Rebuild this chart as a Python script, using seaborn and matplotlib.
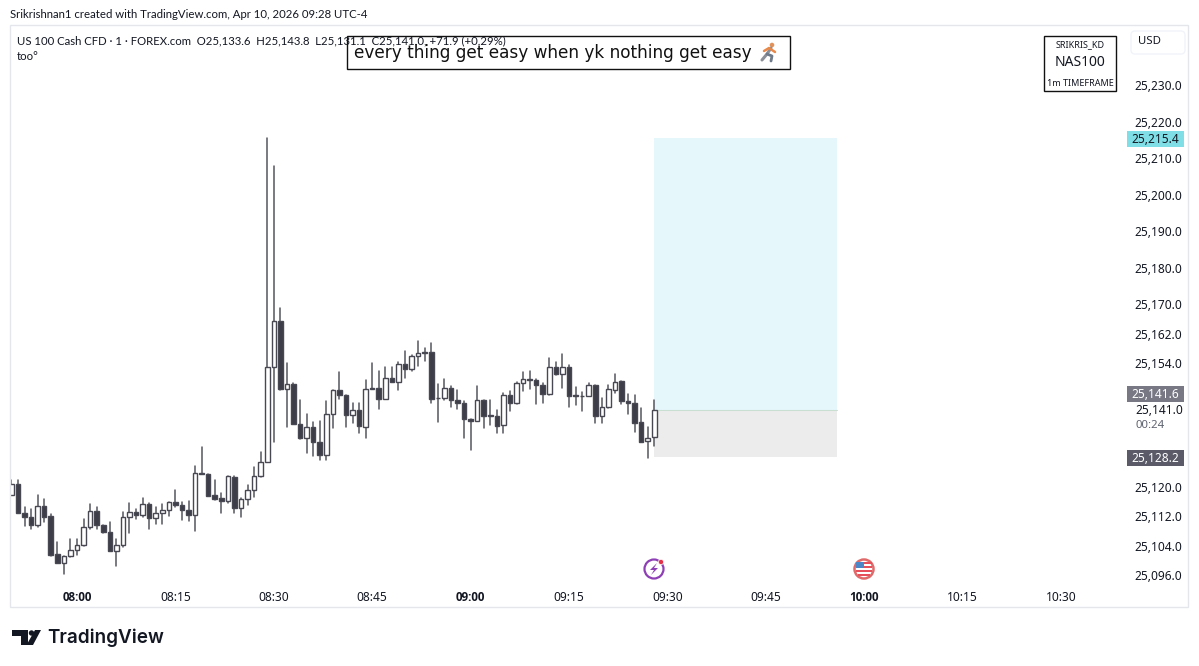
import matplotlib
matplotlib.use("Agg")
import matplotlib.pyplot as plt
from matplotlib.patches import Rectangle, Circle, FancyBboxPatch, Polygon
import pandas as pd
import seaborn as sns

W, H = 1199, 666

# minutes relative to 08:00
minutes = list(range(-10, 89))
opens = [25117.7,25120.8,25113.0,25111.7,25109.6,25114.8,25112.0,25101.6,25099.3,25101.0,
25102.9,25104.1,25109.2,25113.4,25109.6,25107.7,25102.6,25104.1,25111.7,25113.1,
25112.3,25115.3,25111.4,25112.8,25113.6,25115.8,25115.0,25113.8,25112.3,25123.9,
25123.5,25117.7,25117.0,25116.3,25122.8,25114.2,25116.7,25119.1,25123.0,25126.8,
25152.8,25165.5,25146.9,25148.3,25137.3,25133.3,25136.3,25132.2,25128.9,25139.9,
25146.6,25145.3,25139.8,25141.1,25136.5,25146.9,25147.0,25144.2,25149.8,25148.8,
25153.6,25152.4,25155.8,25156.6,25157.0,25144.5,25144.4,25147.0,25143.8,25142.9,
25138.7,25138.2,25143.8,25139.4,25139.4,25136.9,25145.2,25142.9,25148.4,25149.5,
25149.3,25148.0,25145.5,25152.8,25150.9,25152.8,25145.1,25145.0,25144.8,25147.8,
25139.5,25141.8,25146.6,25148.9,25143.6,25143.0,25137.8,25132.5,25133.6]
highs = [25121.9,25121.8,25114.5,25114.0,25117.7,25116.8,25112.5,25105.1,25101.0,25105.9,
25105.9,25111.3,25115.3,25114.6,25109.7,25110.4,25105.9,25113.2,25115.7,25113.9,
25116.9,25115.5,25114.6,25115.4,25115.9,25119.2,25115.9,25116.1,25125.8,25130.9,
25123.6,25121.9,25118.5,25123.0,25123.0,25117.1,25120.6,25125.6,25129.6,25215.4,
25207.8,25169.0,25153.9,25148.4,25143.8,25139.9,25137.7,25138.0,25143.6,25146.6,
25151.4,25145.3,25142.9,25142.9,25149.3,25154.0,25151.8,25152.9,25152.8,25154.3,
25157.1,25156.0,25160.0,25158.0,25159.3,25148.2,25149.5,25147.6,25146.6,25143.6,
25138.7,25147.6,25143.9,25143.8,25141.1,25145.6,25146.2,25148.8,25151.6,25151.8,
25149.5,25148.4,25155.2,25154.3,25156.4,25153.5,25147.5,25146.1,25148.4,25147.8,
25144.5,25148.0,25150.9,25149.1,25145.4,25145.1,25141.5,25136.3,25143.8]
lows = [25117.7,25112.8,25109.4,25108.4,25109.0,25110.5,25101.2,25099.1,25096.3,25100.8,
25101.5,25103.9,25108.4,25108.4,25107.5,25102.6,25098.4,25103.7,25107.3,25111.2,
25111.7,25108.4,25109.9,25109.9,25112.1,25114.5,25111.0,25110.8,25108.1,25123.5,
25117.5,25116.5,25112.8,25115.7,25112.8,25111.9,25115.1,25117.4,25122.8,25126.8,
25132.4,25146.6,25136.5,25137.3,25133.2,25129.4,25128.5,25127.4,25127.4,25136.2,
25144.2,25136.5,25137.6,25134.9,25133.5,25146.9,25141.4,25144.0,25148.7,25146.5,
25149.8,25151.8,25153.0,25154.4,25142.9,25137.8,25143.8,25141.8,25141.3,25133.5,
25130.1,25138.0,25136.2,25137.0,25134.9,25134.9,25140.9,25142.7,25146.4,25146.7,
25142.7,25143.1,25145.3,25150.6,25147.0,25141.8,25142.4,25140.9,25144.8,25137.4,
25137.6,25141.6,25145.8,25142.7,25140.0,25135.1,25132.3,25127.9,25131.1]
closes = [25120.8,25113.0,25111.7,25109.6,25114.9,25111.9,25101.5,25099.3,25101.0,25102.9,
25104.2,25109.2,25113.4,25109.5,25107.7,25102.6,25104.1,25111.7,25113.2,25112.4,
25115.3,25111.4,25112.8,25113.6,25115.9,25115.0,25113.7,25112.4,25123.9,25123.5,
25117.6,25116.8,25116.3,25123.0,25114.2,25116.7,25119.1,25123.1,25126.9,25152.9,
25165.5,25146.9,25148.3,25137.3,25133.3,25136.3,25132.2,25128.9,25139.9,25146.6,
25145.3,25139.8,25141.1,25136.7,25146.9,25147.0,25144.2,25149.9,25148.8,25153.6,
25152.4,25155.8,25156.6,25157.0,25144.2,25144.4,25147.0,25143.8,25142.9,25138.5,
25138.2,25143.8,25139.5,25139.6,25136.8,25145.2,25142.9,25148.6,25149.5,25149.3,
25148.0,25145.5,25152.8,25150.9,25152.8,25145.0,25145.0,25144.8,25147.8,25139.5,
25142.0,25146.7,25148.8,25143.5,25142.9,25137.6,25132.4,25133.3,25141.0]

price_ticks = [25230,25220,25210,25200,25190,25180,25170,25162,25154,25120,25112,25104,25096]
time_ticks = [0,15,30,45,60,75,90,105,120,135,150]
time_labels = ["08:00","08:15","08:30","08:45","09:00","09:15","09:30","09:45","10:00","10:15","10:30"]
bold_labels = ["08:00","09:00","10:00"]

position_start, position_end = 88, 115.85
target_price, entry_price, stop_price = 25215.4, 25141.0, 25128.2

title_line = "Srikrishnan1 created with TradingView.com, Apr 10, 2026 09:28 UTC-4"
legend_line = "US 100 Cash CFD · 1 · FOREX.com  O25,133.6  H25,143.8  L25,131.1  C25,141.0, +71.9 (+0.29%)"
note_line = "every thing get easy when yk nothing get easy"

sns.set_theme(style="white", rc={"font.family": "Noto Sans", "text.color": "#131722"})
DARK = "#3d3d49"
WICK = "#55555f"

df = pd.DataFrame({"minute": minutes, "open": opens, "high": highs, "low": lows, "close": closes})
df["bottom"] = df[["open", "close"]].min(axis=1)
df["size"] = (df["open"] - df["close"]).abs()
wicks = pd.concat([
    df[["minute", "high"]].rename(columns={"high": "price"}),
    df[["minute", "low"]].rename(columns={"low": "price"}),
])

fig = plt.figure(figsize=(W / 100, H / 100), dpi=100, facecolor="white")
AX_L, AX_R, AX_T, AX_B = 10, 1125, 25, 580
ax = fig.add_axes([AX_L / W, 1 - AX_B / H, (AX_R - AX_L) / W, (AX_B - AX_T) / H])
ax.set_facecolor("none")

# long-position tool
ax.add_patch(Rectangle((position_start, entry_price), position_end - position_start,
                       target_price - entry_price, fc="#e5f7fb", ec="none", zorder=1))
ax.add_patch(Rectangle((position_start, stop_price), position_end - position_start,
                       entry_price - stop_price, fc="#ececec", ec="none", zorder=1))
ax.plot([position_start, position_end], [entry_price, entry_price], color="#c9dfd2", lw=0.8, zorder=1.5)

sns.lineplot(data=wicks, x="minute", y="price", units="minute", estimator=None,
             color=WICK, lw=1.1, ax=ax, zorder=2, legend=False)

for frame, face in ((df[df["close"] >= df["open"]], "white"), (df[df["close"] < df["open"]], DARK)):
    sns.barplot(data=frame, x="minute", y="size", bottom=frame["bottom"].to_numpy(),
                native_scale=True, width=0.7, errorbar=None, color=face, saturation=1,
                edgecolor="#484853", linewidth=1.0, ax=ax, zorder=3)

ax.set_xlim((AX_L - 77) / 6.56, (AX_R - 77) / 6.56)
ax.set_ylim(25230 - (AX_B - 85) / 3.655, 25230 + (85 - AX_T) / 3.655)
ax.set_xlabel("")
ax.set_ylabel("")
ax.set_xticks(time_ticks)
ax.set_xticklabels(time_labels, fontsize=8.6, color="#131722")
ax.yaxis.tick_right()
ax.set_yticks(price_ticks)
ax.set_yticklabels([f"{p:,.1f}" for p in price_ticks], fontsize=8.6, color="#131722")
ax.tick_params(axis="x", length=0, pad=8)
ax.tick_params(axis="y", length=0, pad=7)
for lab, name in zip(ax.get_xticklabels(), time_labels):
    if name in bold_labels:
        lab.set_fontproperties({"family": "Open Sans", "weight": "bold", "size": 8.4})
sns.despine(ax=ax, left=True, right=True, top=True, bottom=True)

# overlay in pixel coordinates for annotations and chrome
ov = fig.add_axes([0, 0, 1, 1], zorder=5)
ov.set_xlim(0, W)
ov.set_ylim(H, 0)
ov.axis("off")
ov.patch.set_alpha(0)

ov.add_patch(Rectangle((10, 25), 1178, 582, fc="none", ec="#e4e6ec", lw=1))
ov.text(10, 15, title_line, fontsize=8.2, family="Lato", va="center", ha="left", color="#131722")
ov.text(17, 41, legend_line, fontsize=8.2, family="Lato", va="center", ha="left", color="#131722")
ov.text(17, 57, "too°", fontsize=8.2, family="Lato", va="center", ha="left", color="#131722")

# quote box
ov.add_patch(Rectangle((347, 36), 443, 33, fc="none", ec="#111111", lw=1))
ov.text(354, 53, note_line, fontsize=12.2, family="DejaVu Sans", va="center", ha="left", color="#111111")
# runner glyph
ov.plot([771, 767, 762], [48, 54, 60], color="#8a8f98", lw=2.2, solid_capstyle="round")
ov.plot([767, 772, 771], [54, 56, 61], color="#6e7a8a", lw=2.0, solid_capstyle="round")
ov.plot([764, 769, 775], [51, 48, 52], color="#e8894a", lw=1.8, solid_capstyle="round")
ov.add_patch(Circle((772, 45), 2.3, fc="#e0925a", ec="none"))

# info box
ov.add_patch(Rectangle((1044, 36), 72, 55, fc="white", ec="#111111", lw=1))
ov.text(1080, 45, "SRIKRIS_KD", fontsize=6.5, ha="center", va="center")
ov.text(1080, 62, "NAS100", fontsize=10, ha="center", va="center")
ov.text(1080, 83, "1m TIMEFRAME", fontsize=6.5, ha="center", va="center")

# currency button
ov.add_patch(FancyBboxPatch((1131, 31), 54, 23, boxstyle="round,pad=0,rounding_size=4",
                            fc="white", ec="#f0f3fa", lw=1))
ov.text(1138, 42, "USD", fontsize=8.2, ha="left", va="center")

# price tags
def tag(y, text, face, color):
    ov.add_patch(Rectangle((1127, y - 8), 57, 16, fc=face, ec="none"))
    ov.text(1155.5, y + 0.5, text, fontsize=8.6, ha="center", va="center", color=color)

tag(139, "25,215.4", "#80dfe6", "#131722")
tag(394, "25,141.6", "#787885", "white")
tag(458, "25,128.2", "#5a5a68", "white")
ov.text(1135, 411, "25,141.0", fontsize=8.6, ha="left", va="center", color="#131722")
ov.text(1135, 425, "00:24", fontsize=8.2, ha="left", va="center", color="#5f6370")

# event icons
ov.add_patch(Circle((654, 569), 9.5, fc="white", ec="#8e3fb5", lw=1.6))
ov.add_patch(Polygon([(657, 563), (650, 570), (654, 570), (651, 575), (658, 568), (654, 568)],
                     fc="#8e3fb5", ec="none"))
ov.add_patch(Circle((661, 562), 2.6, fc="#e5304a", ec="white", lw=0.5))
ov.add_patch(Circle((864, 569), 9.5, fc="white", ec="#e06a6a", lw=1.8))
ov.add_patch(Rectangle((856, 562), 8, 6, fc="#4d86c6", ec="none"))
ov.add_patch(Rectangle((864, 562), 8, 2.2, fc="#e5505a", ec="none"))
ov.add_patch(Rectangle((864, 566), 8, 2.2, fc="#e5505a", ec="none"))
ov.add_patch(Rectangle((856, 570), 16, 2.2, fc="#e5505a", ec="none"))
ov.add_patch(Rectangle((858, 574), 12, 1.6, fc="#e5505a", ec="none"))

# TradingView mark
ov.add_patch(Polygon([(12, 630), (28, 630), (28, 645), (21, 645), (21, 636), (12, 636)], fc="#131722", ec="none"))
ov.add_patch(Circle((31.5, 633), 2.7, fc="#131722", ec="none"))
ov.add_patch(Polygon([(35, 630), (41, 630), (33, 645), (26.5, 645)], fc="#131722", ec="none"))
ov.text(47, 637.5, "TradingView", fontsize=13.6, family="Inter", weight="semibold", ha="left", va="center", color="#131722")

fig.savefig("out.png", dpi=100, facecolor="white")
